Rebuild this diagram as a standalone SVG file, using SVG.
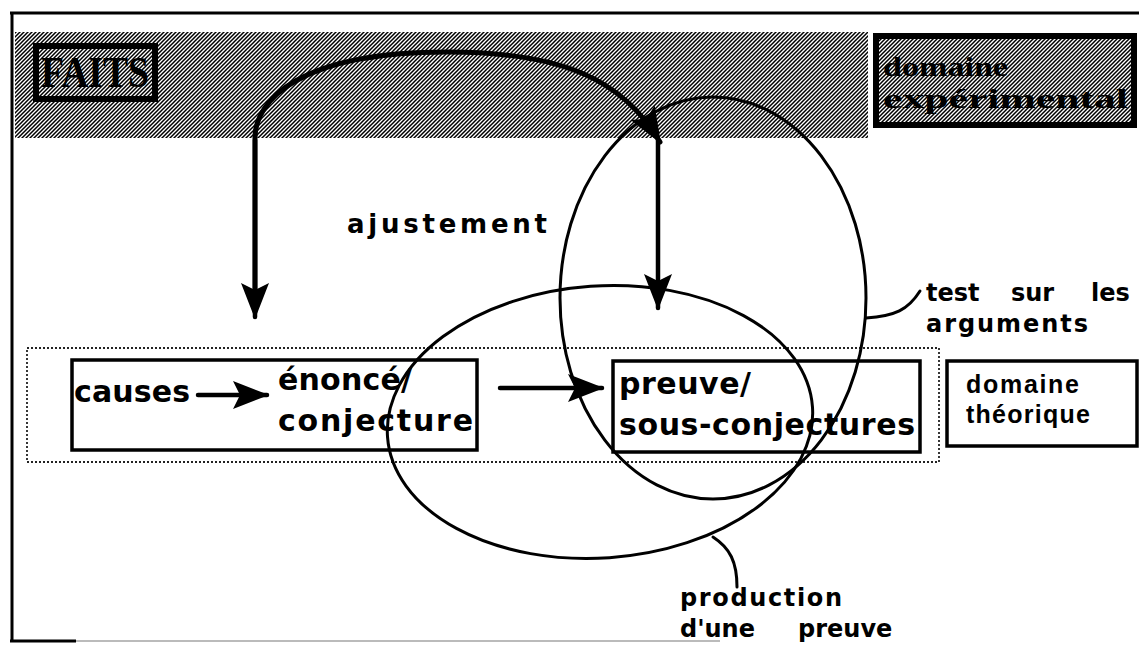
<svg xmlns="http://www.w3.org/2000/svg" width="1139" height="646" viewBox="0 0 1139 646">
<style>
.frame{stroke:#000;stroke-width:3;fill:none}
.box{fill:none;stroke:#000;stroke-width:3.5}
.dark{fill:url(#hatch);stroke:#000;stroke-width:6}
.dot{fill:none;stroke:#222;stroke-width:1.8;stroke-dasharray:2 2}
.lbl{font-family:"DejaVu Sans",sans-serif;font-weight:bold;fill:#000}
.cond{font-family:"Liberation Sans",Arial,sans-serif;font-weight:bold;fill:#000}
.ser{font-family:"Liberation Serif","Times New Roman",serif;font-weight:bold;fill:#000}
.arw{fill:none;stroke:#000;stroke-width:4.5;stroke-linecap:round}
.ell{fill:none;stroke:#000;stroke-width:3}
.con{fill:none;stroke:#000;stroke-width:3;stroke-linecap:round}
</style>
<defs>
<pattern id="hatch" patternUnits="userSpaceOnUse" width="4" height="4">
<rect width="4" height="4" fill="#fff"/>
<path d="M-1,1 L1,-1 M0,4 L4,0 M3,5 L5,3" stroke="#000" stroke-width="1.5"/>
</pattern>
<marker id="ah" viewBox="0 0 36 28" refX="34" refY="14" markerWidth="36" markerHeight="28" markerUnits="userSpaceOnUse" orient="auto">
<path d="M0,0 L36,14 L0,28 L7,14 z" fill="#000"/>
</marker>
</defs>
<rect width="1139" height="646" fill="#fff"/>
<g id="frame">
<path class="frame" d="M10,13 H1139 M12,13 V641"/>
<path d="M10,641 H76" stroke="#000" stroke-width="3"/>
<path d="M76,641 H720" stroke="#bbb" stroke-width="2"/>
</g>
<g id="band">
<rect x="15" y="32" width="853" height="106" fill="url(#hatch)"/>
</g>
<g id="faits">
<rect class="dark" x="36" y="46" width="119" height="53"/>
<text class="ser" x="41" y="87" font-size="44" textLength="108" lengthAdjust="spacingAndGlyphs">FAITS</text>
</g>
<g id="domaine-experimental">
<rect class="dark" x="876" y="36" width="258" height="89"/>
<text class="ser" x="883" y="76" font-size="28" textLength="125" lengthAdjust="spacingAndGlyphs">domaine</text>
<text class="ser" x="883" y="108" font-size="28" textLength="245" lengthAdjust="spacingAndGlyphs">expérimental</text>
</g>
<g id="theorie-zone">
<rect class="dot" x="27" y="348" width="912" height="114"/>
</g>
<g id="enonce">
<rect class="box" x="72" y="360" width="405" height="90"/>
<text class="lbl" x="74" y="402" font-size="30" textLength="116">causes</text>
<text class="lbl" x="278" y="390" font-size="30" textLength="134">énoncé/</text>
<text class="lbl" x="278" y="431" font-size="30" textLength="195">conjecture</text>
</g>
<g id="preuve">
<rect class="box" x="613" y="361" width="307" height="91"/>
<text class="lbl" x="619" y="394" font-size="30" textLength="132">preuve/</text>
<text class="lbl" x="619" y="435" font-size="30" textLength="296">sous-conjectures</text>
</g>
<g id="domaine-theorique">
<rect class="box" x="947" y="361" width="190" height="85"/>
<text class="cond" x="966" y="393" font-size="25" textLength="113">domaine</text>
<text class="cond" x="966" y="423" font-size="25" textLength="124">théorique</text>
</g>
<g id="labels">
<text class="lbl" x="347" y="233" font-size="26" textLength="200">ajustement</text>
<text class="lbl" y="301" font-size="24"><tspan x="926">test</tspan><tspan x="1011">sur</tspan><tspan x="1091">les</tspan></text>
<text class="lbl" x="926" y="332" font-size="24" textLength="162">arguments</text>
<text class="lbl" x="680" y="606" font-size="24" textLength="162">production</text>
<text class="lbl" y="637" font-size="24"><tspan x="680">d'une</tspan><tspan x="798">preuve</tspan></text>
</g>
<g id="connectors">
<path class="arw" d="M255,290 L255,138 C255,100 300,52 447,52 C560,52 622,78 660,142" marker-end="url(#ah)" style="stroke-width:5"/>
<path class="arw" d="M255,140 L255,317" marker-end="url(#ah)"/>
<path class="arw" d="M658,140 L658,308" marker-end="url(#ah)"/>
<path class="arw" d="M198,395 L267,395" marker-end="url(#ah)"/>
<path class="arw" d="M500,388 L602,388" marker-end="url(#ah)"/>
<ellipse class="ell" cx="713" cy="298" rx="153" ry="201"/>
<ellipse class="ell" cx="600" cy="422" rx="213" ry="136" transform="rotate(-4 600 422)"/>
<path class="con" d="M866,318 C895,316 908,310 920,291"/>
<path class="con" d="M713,537 C730,548 737,562 737,587"/>
</g>
</svg>
